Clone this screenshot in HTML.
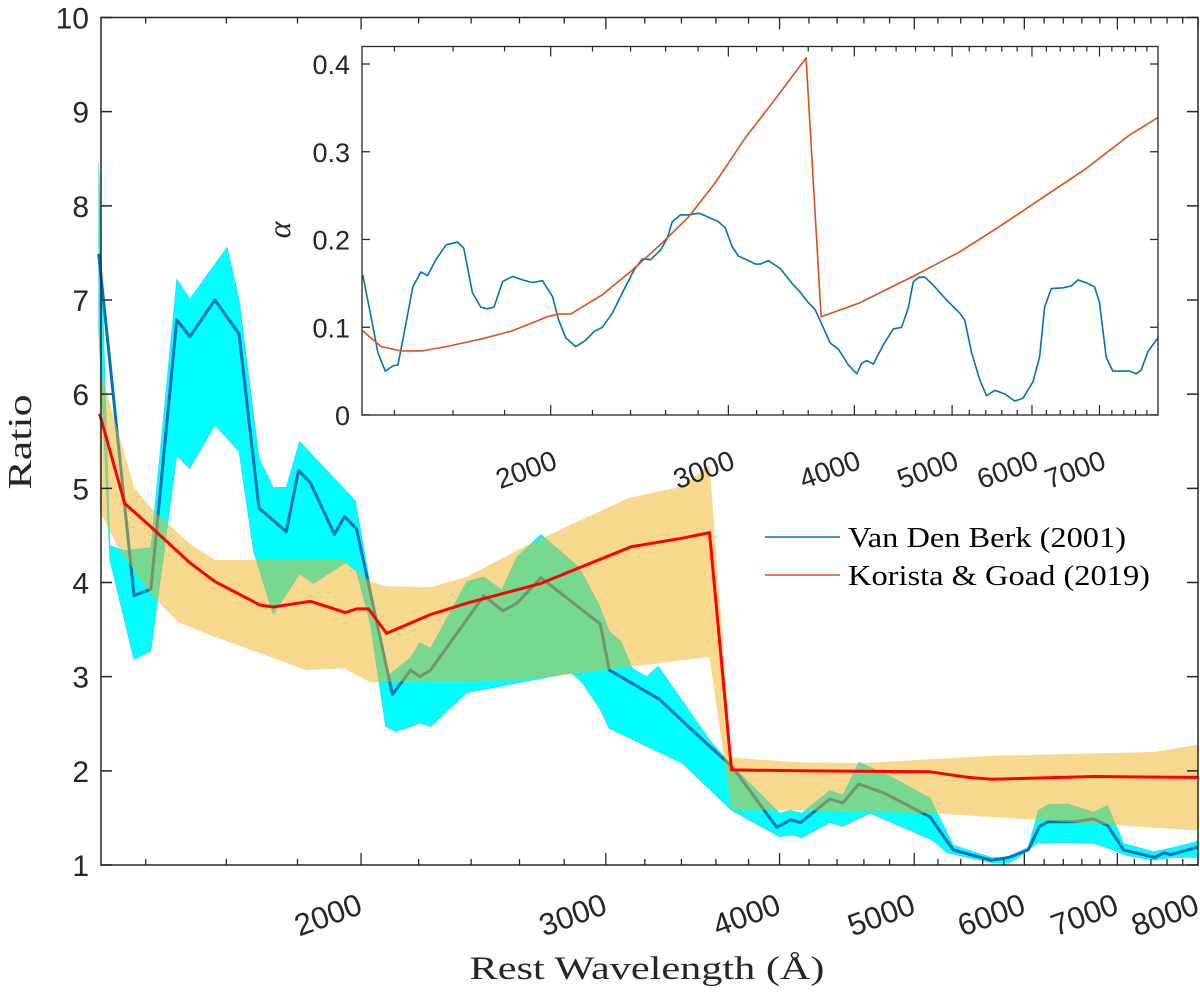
<!DOCTYPE html>
<html><head><meta charset="utf-8"><style>
html,body{margin:0;padding:0;background:#fff;}
svg{display:block;}
</style></head><body>
<svg id="chart" width="1200" height="992" viewBox="0 0 1200 992" xmlns="http://www.w3.org/2000/svg">
<rect width="1200" height="992" fill="#fff"/>
<g id="plot"></g>
</svg>
<script>
// ---- main chart data (wavelength in Angstrom, ratio) ----
const vdbLam = [1295,1373,1412,1474,1506,1570,1634,1689,1767,1803,1839,1914,1946,1985,2107,2171,2204,2244,2451,2530,2589,2694,2972,3017,3278,3503,3701,3981,4075,4143,4347,4442,4562,4763,5133,5333,5681,5843,6040,6152,6244,6531,6729,6887,7072,7447,7559,7647,8000];
const vdbVal = [7.49,3.86,3.93,6.79,6.61,7.00,6.64,4.79,4.54,5.19,5.06,4.51,4.70,4.57,2.81,3.07,3.00,3.07,3.86,3.70,3.78,4.05,3.56,3.07,2.76,2.36,2.04,1.40,1.48,1.45,1.70,1.66,1.86,1.76,1.51,1.16,1.05,1.08,1.16,1.41,1.46,1.46,1.49,1.42,1.16,1.08,1.13,1.11,1.19];
const cyanUpLam = [1295,1319,1352,1412,1474,1506,1602,1634,1689,1729,1767,1806,1981,2086,2171,2204,2244,2383,2451,2525,2589,2694,2870,2967,3017,3077,3134,3208,3272,3562,3683,4001,4069,4150,4347,4442,4562,4779,5133,5333,5686,5843,6040,6141,6244,6445,6729,6887,7072,7434,7647,7945,8000];
const cyanUpVal = [8.46,4.39,4.34,4.37,7.22,7.01,7.56,7.01,5.32,5.01,5.01,5.50,4.87,3.00,3.20,3.36,3.30,4.01,4.06,3.92,4.27,4.51,4.16,3.76,3.48,3.37,3.09,3.00,3.11,2.33,2.08,1.55,1.58,1.55,1.79,1.74,2.09,1.96,1.71,1.21,1.08,1.08,1.19,1.58,1.64,1.65,1.56,1.63,1.23,1.14,1.18,1.24,1.26];
const cyanLoLam = [1295,1319,1373,1412,1474,1506,1570,1634,1673,1729,1806,1848,1949,1985,2031,2083,2118,2175,2204,2244,2383,2832,2884,2967,3017,3405,3694,4001,4082,4150,4347,4442,4647,5158,5280,5699,5843,5941,6141,6296,6445,6729,6947,7111,7434,7647,8000];
const cyanLoVal = [6.68,4.24,3.18,3.27,5.35,5.21,5.67,5.39,4.34,3.66,4.09,3.99,4.21,4.12,3.56,2.47,2.42,2.47,2.51,2.47,2.83,3.04,2.94,2.67,2.45,2.08,1.58,1.30,1.32,1.29,1.45,1.41,1.55,1.26,1.13,1.02,1.02,1.08,1.24,1.23,1.24,1.23,1.16,1.10,1.05,1.08,1.08];
const kgLam = [1297,1352,1412,1506,1570,1692,1729,1839,1949,1985,2025,2086,2244,2383,2694,3129,3405,3562,3694,4136,5133,5467,5686,6729,7945,8000];
const kgVal = [5.79,4.84,4.59,4.21,4.01,3.76,3.74,3.80,3.68,3.72,3.72,3.46,3.66,3.78,3.99,4.38,4.47,4.53,2.01,2.00,1.99,1.93,1.91,1.94,1.93,1.93];
const orUpLam = [1297,1373,1412,1506,1570,1942,2031,2086,2244,2383,2598,2809,3119,3405,3562,3694,4136,4569,5699,7434,7945,8000];
const orUpVal = [6.28,5.01,4.79,4.41,4.24,4.24,4.01,3.96,3.95,4.06,4.35,4.59,4.90,5.02,5.25,2.14,2.09,2.08,2.16,2.20,2.27,2.28];
const orLoLam = [1297,1341,1417,1477,1565,1827,1942,2031,2576,2809,3562,3694,4136,5158,7945,8000];
const orLoVal = [4.76,4.34,3.85,3.58,3.43,3.07,3.09,2.94,2.96,3.02,3.21,1.58,1.58,1.55,1.37,1.37];
const yTicksMain = [1,2,3,4,5,6,7,8,9,10];
const xLabelTicks = [2000,3000,4000,5000,6000,7000,8000];

// ---- inset data (alpha) ----
const inVdbLam = [1302,1327,1348,1371,1395,1411,1431,1460,1487,1510,1539,1575,1617,1640,1673,1705,1731,1757,1792,1833,1875,1918,1963,2008,2037,2070,2117,2166,2207,2250,2302,2355,2418,2465,2512,2570,2609,2639,2689,2741,2804,2847,2935,2980,3025,3071,3142,3190,3227,3286,3377,3469,3535,3602,3658,3714,3785,3857,3946,4022,4068,4115,4177,4273,4372,4456,4524,4576,4638,4699,4789,4937,5089,5147,5227,5326,5408,5512,5638,5768,5878,6014,6106,6176,6271,6439,6564,6663,6817,6922,7000,7108,7216,7382,7496,7612,7699,7816,7966,8000];
const inVdbVal = [0.160,0.112,0.071,0.050,0.056,0.057,0.093,0.146,0.163,0.159,0.177,0.194,0.197,0.190,0.139,0.123,0.121,0.123,0.152,0.158,0.154,0.151,0.153,0.135,0.108,0.088,0.078,0.085,0.095,0.100,0.116,0.139,0.165,0.178,0.177,0.188,0.201,0.220,0.228,0.228,0.230,0.227,0.220,0.213,0.192,0.181,0.176,0.172,0.172,0.176,0.167,0.150,0.140,0.128,0.120,0.103,0.082,0.075,0.057,0.047,0.059,0.062,0.058,0.080,0.098,0.100,0.122,0.152,0.157,0.157,0.148,0.131,0.116,0.108,0.071,0.040,0.022,0.028,0.024,0.016,0.019,0.038,0.066,0.123,0.144,0.145,0.147,0.154,0.150,0.146,0.128,0.066,0.050,0.050,0.050,0.047,0.051,0.072,0.085,0.088];
const inKgLam = [1302,1358,1421,1493,1575,1712,1833,1985,2037,2093,2250,2409,2579,2741,2913,3119,3339,3583,3708,4052,4611,5089,5575,6152,6792,7496,8000];
const inKgVal = [0.096,0.078,0.073,0.073,0.078,0.087,0.096,0.112,0.115,0.115,0.137,0.165,0.196,0.226,0.265,0.316,0.360,0.407,0.112,0.128,0.160,0.186,0.215,0.248,0.281,0.319,0.339];
const yTicksInset = [0,0.1,0.2,0.3,0.4];

const NS = 'http://www.w3.org/2000/svg';
const plot = document.getElementById('plot');
const LMIN = 1300, LMAX = 8000;
const M = {l:101, r:1198, t:17.5, b:865};
const I = {l:362, r:1158, t:46.5, b:415};
function xMain(l){ return M.l + Math.log(l/LMIN)/Math.log(LMAX/LMIN)*(M.r-M.l); }
function yMain(v){ return M.b - (v-1)/9*(M.b-M.t); }
function xIn(l){ return I.l + Math.log(l/LMIN)/Math.log(LMAX/LMIN)*(I.r-I.l); }
function yIn(v){ return I.b - v*877.5; }
function mk(tag, attrs, parent){
  const e = document.createElementNS(NS, tag);
  for (const k in attrs) e.setAttribute(k, attrs[k]);
  (parent||plot).appendChild(e);
  return e;
}
function pts(lams, vals, fx, fy){ return lams.map((l,i)=>fx(l).toFixed(1)+','+fy(vals[i]).toFixed(1)); }

let e = mk('polygon', {points: pts(cyanUpLam,cyanUpVal,xMain,yMain).concat(pts(cyanLoLam,cyanLoVal,xMain,yMain).reverse()).join(' '), fill:'#00ffff', stroke:'#33ccff', 'stroke-width':'0.6'});


e = mk('polyline', {points: pts(vdbLam,vdbVal,xMain,yMain).join(' '), fill:'none', stroke:'#0072bd', 'stroke-width':'3', 'stroke-linejoin':'round'});


e = mk('polygon', {points: pts(orUpLam,orUpVal,xMain,yMain).concat(pts(orLoLam,orLoVal,xMain,yMain).reverse()).join(' '), fill:'rgba(237,177,32,0.5)', stroke:'none'});


e = mk('polyline', {points: pts(kgLam,kgVal,xMain,yMain).join(' '), fill:'none', stroke:'#ff0000', 'stroke-width':'3', 'stroke-linejoin':'round'});



e = mk('rect', {x:M.l, y:M.t, width:M.r-M.l, height:M.b-M.t, fill:'none', stroke:'#262626', 'stroke-width':'1.5'});


yTicksMain.forEach(v=>{
  const y = yMain(v);
  let t = mk('path', {d:`M${M.l},${y}h11M${M.r},${y}h-11`, stroke:'#262626', 'stroke-width':'1.5'});
  
  
  let tx = mk('text', {x:89, y:y+11, 'text-anchor':'end', 'font-family':'Liberation Sans, sans-serif', 'font-size':'30', fill:'#262626'});
  tx.textContent = v;
  
  
});
for (let l=1400; l<=8000; l+=200){
  const major = (l%1000===0);
  const len = major?12:6;
  const x = xMain(l);
  let t = mk('path', {d:`M${x},${M.b}v${-len}M${x},${M.t}v${len}`, stroke:'#262626', 'stroke-width':'1.3'});
  
  
}
xLabelTicks.forEach(l=>{
  const x = xMain(l)+3, y = 913;
  let tx = mk('text', {x:x, y:y, 'text-anchor':'end', transform:`rotate(-20 ${x} ${y})`, 'font-family':'Liberation Sans, sans-serif', 'font-size':'31', fill:'#262626'});
  tx.textContent = l;
  
  
});

e = mk('text', {x:647, y:979, 'text-anchor':'middle', 'font-family':'Liberation Serif, serif', 'font-size':'33', fill:'#262626', textLength:'355', lengthAdjust:'spacingAndGlyphs'});
e.textContent = 'Rest Wavelength (Å)';


e = mk('text', {x:31, y:442, 'text-anchor':'middle', transform:'rotate(-90 31 442)', 'font-family':'Liberation Serif, serif', 'font-size':'34', fill:'#262626', textLength:'95', lengthAdjust:'spacingAndGlyphs'});
e.textContent = 'Ratio';



// inset
e = mk('rect', {x:I.l, y:I.t, width:I.r-I.l, height:I.b-I.t, fill:'#fff', stroke:'none'});


for (let l=1400; l<8000; l+=200){
  const major = (l%1000===0), leni = major?10:5, xi = xIn(l);
  let ti = mk('path', {d:`M${xi},${I.b}v${-leni}M${xi},${I.t}v${leni}`, stroke:'#262626', 'stroke-width':'1.2'});
  
  
}
e = mk('polyline', {points: pts(inVdbLam,inVdbVal,xIn,yIn).join(' '), fill:'none', stroke:'#0072bd', 'stroke-width':'1.6', 'stroke-linejoin':'round'});


e = mk('polyline', {points: pts(inKgLam,inKgVal,xIn,yIn).join(' '), fill:'none', stroke:'#d95319', 'stroke-width':'1.6', 'stroke-linejoin':'round'});


e = mk('rect', {x:I.l, y:I.t, width:I.r-I.l, height:I.b-I.t, fill:'none', stroke:'#262626', 'stroke-width':'1.3'});


yTicksInset.forEach(v=>{
  const y = yIn(v);
  let t = mk('path', {d:`M${I.l},${y}h8M${I.r},${y}h-8`, stroke:'#262626', 'stroke-width':'1.2'});
  
  
  let tx = mk('text', {x:350, y:y+10, 'text-anchor':'end', 'font-family':'Liberation Sans, sans-serif', 'font-size':'27', fill:'#262626'});
  tx.textContent = v===0?'0':v.toFixed(1);
  
  
});
xLabelTicks.slice(0,6).forEach(l=>{
  const x = xIn(l)+8, y = 468;
  let tx = mk('text', {x:x, y:y, 'text-anchor':'end', transform:`rotate(-20 ${x} ${y})`, 'font-family':'Liberation Sans, sans-serif', 'font-size':'28', fill:'#262626'});
  tx.textContent = l;
  
  
});
e = mk('text', {x:290, y:230, 'text-anchor':'middle', transform:'rotate(-90 290 230)', 'font-family':'Liberation Serif, serif', 'font-style':'italic', 'font-size':'32', fill:'#262626'});
e.textContent = 'α';



// legend
const leg = mk('g', {});


e = mk('line', {x1:765, x2:840, y1:537, y2:537, stroke:'#0072bd', 'stroke-width':'1.6'}, leg);


e = mk('text', {x:848, y:547, 'font-family':'Liberation Serif, serif', 'font-size':'29', fill:'#000', textLength:'278', lengthAdjust:'spacingAndGlyphs'}, leg);
e.textContent = 'Van Den Berk (2001)';


e = mk('line', {x1:765, x2:840, y1:575, y2:575, stroke:'#d95319', 'stroke-width':'1.6'}, leg);


e = mk('text', {x:848, y:585, 'font-family':'Liberation Serif, serif', 'font-size':'29', fill:'#000', textLength:'302', lengthAdjust:'spacingAndGlyphs'}, leg);
e.textContent = 'Korista & Goad (2019)';


</script>
</body></html>
